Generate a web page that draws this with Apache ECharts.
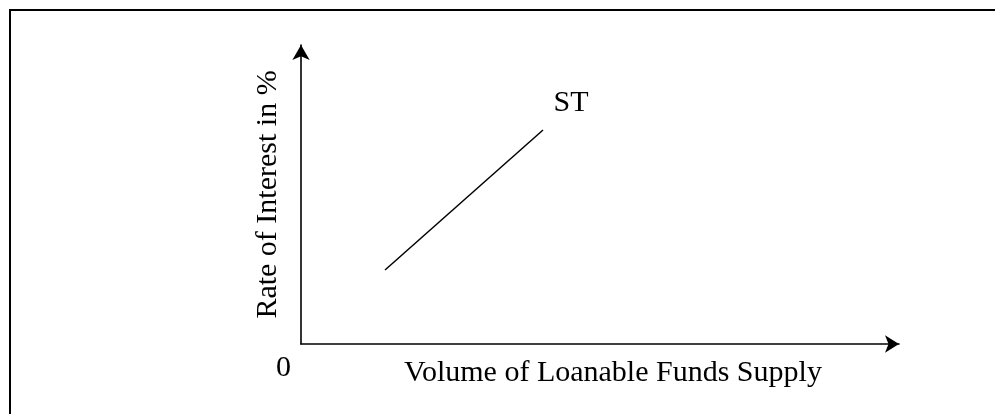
<!DOCTYPE html>
<html>
<head>
<meta charset="utf-8">
<script src="https://cdn.jsdelivr.net/npm/echarts@6/dist/echarts.min.js"></script>
<style>
  html, body { margin: 0; padding: 0; background: #fff; }
  #chart { width: 995px; height: 414px; }
</style>
</head>
<body>
<div id="chart"></div>
<script>
// supply curve ST (axis units 0..100)
const stX = [14.05, 40.47];
const stY = [24.75, 71.57];
const curveName = 'ST';
const xTitle = 'Volume of Loanable Funds Supply';
const yTitle = 'Rate of Interest in %';
const originLabel = '0';

const font = '"Liberation Serif", "Times New Roman", serif';
const chart = echarts.init(document.getElementById('chart'));

chart.setOption({
  backgroundColor: '#fff',
  animation: false,
  grid: { left: 301, right: 96, top: 45, bottom: 70 },
  xAxis: {
    type: 'value', min: 0, max: 100,
    name: xTitle, nameLocation: 'middle', nameGap: 14,
    nameTextStyle: { fontFamily: font, fontSize: 30, color: '#000', padding: [0, 0, 0, 26] },
    axisLine: { show: true, symbol: ['none', 'arrow'], symbolSize: [13, 14],
      lineStyle: { color: '#000', width: 1.6 } },
    axisTick: { show: false }, axisLabel: { show: false }, splitLine: { show: false }
  },
  yAxis: {
    type: 'value', min: 0, max: 100,
    name: yTitle, nameLocation: 'middle', nameGap: 18,
    nameTextStyle: { fontFamily: font, fontSize: 30, color: '#000' },
    axisLine: { show: true, symbol: ['none', 'arrow'], symbolSize: [13, 15],
      lineStyle: { color: '#000', width: 1.6 } },
    axisTick: { show: false }, axisLabel: { show: false }, splitLine: { show: false }
  },
  graphic: [
    { type: 'rect', shape: { x: 10, y: 10, width: 1200, height: 800 },
      style: { fill: 'none', stroke: '#000', lineWidth: 2 }, silent: true },
    { type: 'text', left: 276, top: 353,
      style: { text: originLabel, font: '30px ' + font, fill: '#000' } }
  ],
  series: [{
    type: 'line',
    data: stX.map((x, i) => [x, stY[i]]),
    symbol: 'none',
    lineStyle: { color: '#000', width: 1.5 },
    markPoint: {
      symbol: 'circle', symbolSize: 0,
      label: { show: true, formatter: curveName, offset: [28, -27],
        fontFamily: font, fontSize: 30, color: '#000' },
      data: [{ coord: [stX[1], stY[1]] }]
    }
  }]
});
</script>
</body>
</html>
